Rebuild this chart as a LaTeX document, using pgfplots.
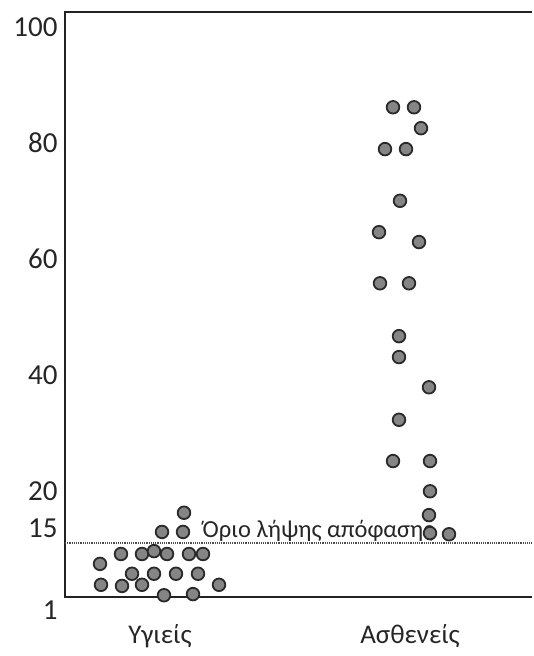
\documentclass[border=0pt]{standalone}
\usepackage{pgfplots}
\pgfplotsset{compat=1.18}
\usepackage{fontspec}
\setmainfont{Carlito}

\definecolor{dotfill}{HTML}{858585}
\definecolor{dotedge}{HTML}{2A2A2A}
\definecolor{frame}{HTML}{222222}

\begin{document}
\begin{tikzpicture}
% keep page at reference proportions (frame bottom-left = origin)
\path[use as bounding box] (-65pt,-59pt) rectangle (469pt,597pt);
\begin{axis}[
    scale only axis,
    width=467pt, height=585pt,
    xmin=0.62, xmax=2.488,
    ymin=1, ymax=101.7,
    axis line style={draw=none},
    xtick={1,2},
    xticklabels={Υγιείς, Ασθενείς},
    ytick={20,40,60,80,100},
    extra y ticks={1,15},
    extra y tick style={yticklabel style={yshift=-8pt}},
    major tick length=0pt,
    /pgf/number format/assume math mode=true,
    ticklabel style={font=\fontsize{29}{30}\selectfont, text=black!85},
    xticklabel style={font=\fontsize{27}{28}\selectfont, yshift=-24pt},
    yticklabel style={xshift=-4pt, yshift=-5pt},
    clip=false,
]
% frame: left, top and bottom only
\draw[frame, line width=2pt] (rel axis cs:1,1) -- (rel axis cs:0,1) -- (rel axis cs:0,0) -- (rel axis cs:1,0);

% decision threshold
\draw[black!70, line width=1.2pt, densely dotted] (axis cs:0.62,10.3) -- (axis cs:2.488,10.3);
\node[anchor=base west, inner sep=0pt, text=black!85, font=\fontsize{24.5}{26}\selectfont]
    at (axis cs:1.17,11.3) {Όριο λήψης απόφασης};

\addplot[only marks, mark=*, mark size=6.3pt,
    mark options={fill=dotfill, draw=dotedge, line width=1.8pt}]
coordinates {
    (1.096,15.5)
    (1.008,12.2) (1.092,12.2)
    (0.844,8.4) (0.928,8.4) (0.976,8.9) (1.028,8.4) (1.116,8.4) (1.172,8.4)
    (0.760,6.7)
    (0.888,5.0) (0.976,5.0) (1.064,5.0) (1.152,5.0)
    (0.764,3.1) (0.848,2.9) (0.928,3.1) (1.236,3.1)
    (1.016,1.3) (1.132,1.5)
};

\addplot[only marks, mark=*, mark size=6.3pt,
    mark options={fill=dotfill, draw=dotedge, line width=1.8pt}]
coordinates {
    (1.932,85.3) (2.016,85.3)
    (2.044,81.7)
    (1.900,78.1) (1.984,78.1)
    (1.960,69.2)
    (1.876,63.8)
    (2.036,62.1)
    (1.880,55.0) (1.996,55.0)
    (1.956,45.9)
    (1.956,42.3)
    (2.076,37.1)
    (1.956,31.5)
    (1.932,24.4) (2.080,24.4)
    (2.080,19.2)
    (2.076,15.1)
    (2.080,12.0) (2.156,11.8)
};
\end{axis}
\end{tikzpicture}
\end{document}
